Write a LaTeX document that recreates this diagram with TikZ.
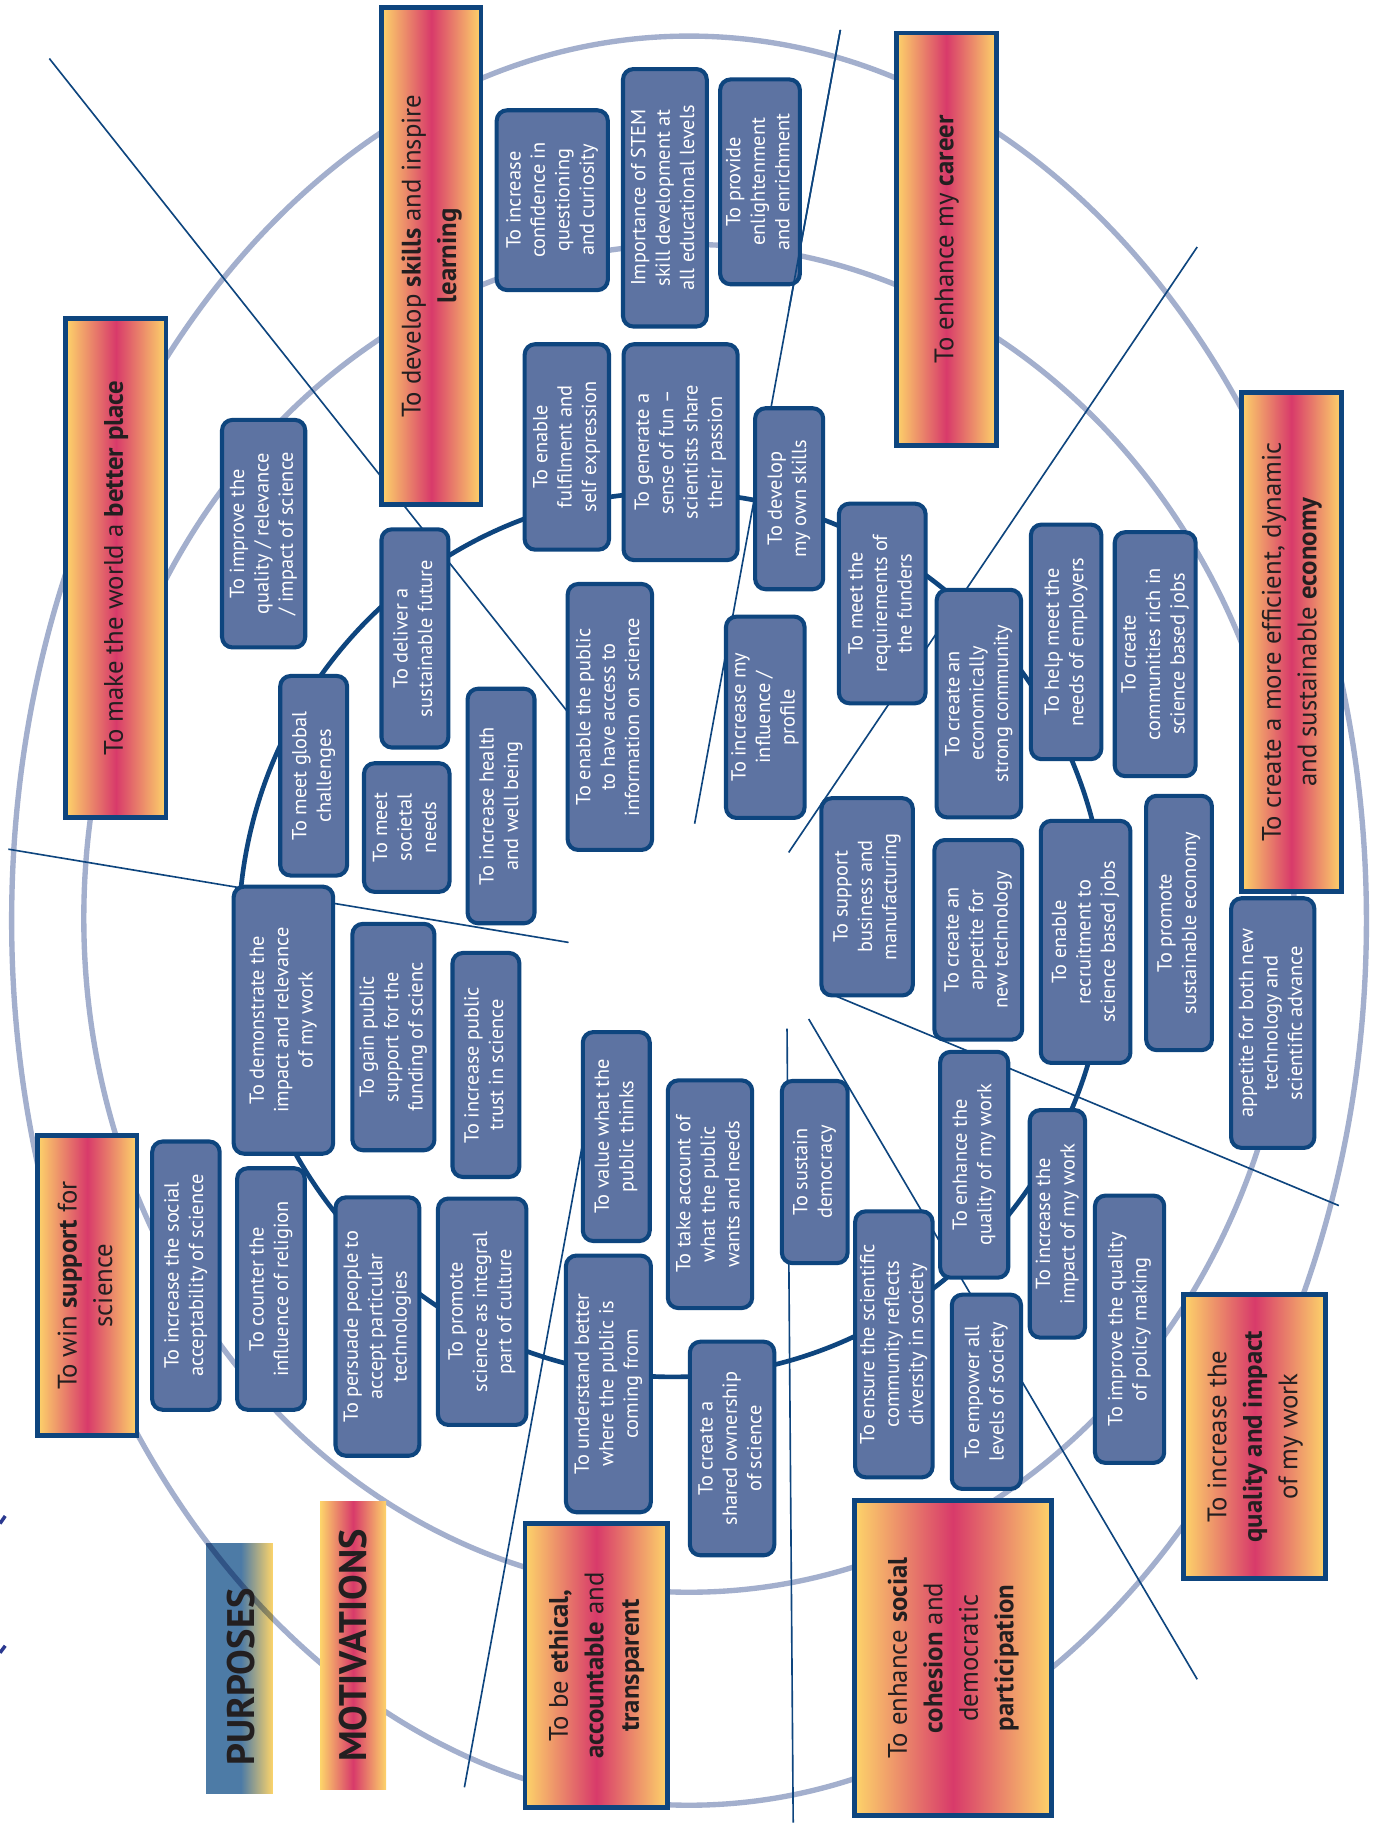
\documentclass[tikz,border=0pt]{standalone}
\usepackage{fontspec}
\setmainfont{PT Sans}
\usepackage{graphicx}
\usetikzlibrary{calc}
\definecolor{navy}{RGB}{14,69,126}
\definecolor{boxblue}{RGB}{93,115,162}
\definecolor{ringc}{RGB}{163,175,205}
\definecolor{pY}{RGB}{253,212,106}
\definecolor{pR}{RGB}{216,58,106}
\definecolor{pBlue}{RGB}{77,123,166}
\definecolor{ptext}{RGB}{35,31,32}
\definecolor{markc}{RGB}{43,57,144}
\newcommand\vtext[1]{\rotatebox{90}{\begin{tabular}{@{}c@{}}#1\end{tabular}}}
\newcommand\bxfont{\fontsize{17.5}{21}\selectfont}
\newcommand\pxfont{\fontsize{23}{30.5}\selectfont}
\newcommand\bigfont{\fontsize{33}{36}\selectfont\bfseries}
\tikzset{
  mbox/.style={rectangle, draw=navy, line width=3.5pt, fill=boxblue, rounded corners=9pt,
    inner sep=0pt, text=white, font=\bxfont},
  pbox/.style={rectangle, draw=navy, line width=4.2pt, left color=pY, right color=pY,
    middle color=pR, inner sep=0pt, text=ptext, font=\pxfont},
  ring/.style={draw=ringc, line width=4.6pt},
  inring/.style={draw=navy, line width=4pt},
  radial/.style={draw=navy, line width=1.4pt},
}
\newcommand\mbx[6]{\node[mbox, minimum width={#4-#2-3.5}, minimum height={#5-#3-3.5}] (#1) at ({(#2+#4)/2},{(#3+#5)/2}) {\vtext{#6}};}
\newcommand\pbx[6]{\node[pbox, minimum width={#4-#2-4.2}, minimum height={#5-#3-4.2}] (#1) at ({(#2+#4)/2},{(#3+#5)/2}) {\vtext{#6}};}
\begin{document}
\begin{tikzpicture}[x=1pt,y=-1pt]
\useasboundingbox (0,0) rectangle (1187,1568);
\fill[white] (0,0) rectangle (1187,1568);

% PURPOSES label background
\fill[pBlue] (177,1325.7) rectangle (207,1541);
\shade[left color=pBlue, right color=pY] (207,1325.7) rectangle (234.4,1541);

% rings
\begin{scope}[blend mode=multiply]
\draw[ring] (592,791) ellipse [x radius=582pt, y radius=760pt];
\draw[ring] (592,789) ellipse [x radius=520pt, y radius=579pt];
\end{scope}
\node[font=\bigfont, text=ptext, rotate=90, inner sep=0pt] (purposes) at (207,1441) {PURPOSES};

\draw[inring] (578,803) ellipse [x radius=373pt, y radius=380pt];

% radial lines
\coordinate (l1a) at (42.4,50.3);   \coordinate (l1b) at (490,614.5);
\coordinate (l2a) at (722,25.7);    \coordinate (l2b) at (596.8,707.7);
\coordinate (l2c) at (678,265);
\coordinate (l3a) at (1028.6,212.2); \coordinate (l3b) at (677.6,732.4);
\coordinate (l4a) at (710,852.4);   \coordinate (l4b) at (1150.3,1035.8);
\coordinate (l5a) at (694.8,875.5); \coordinate (l5b) at (1028.6,1442.8);
\coordinate (l6a) at (676.2,883.7); \coordinate (l6b) at (681.5,1566);
\coordinate (l7a) at (500.1,985);   \coordinate (l7b) at (399,1535.6);
\coordinate (l8a) at (7.2,729.6);   \coordinate (l8b) at (488.5,809.7);
\foreach \i in {1,...,8} {\draw[radial] (l\i a) -- (l\i b);}

% edge marks
\coordinate (m1a) at (0,1309); \coordinate (m1b) at (4.5,1302.5);
\coordinate (m2a) at (0,1420); \coordinate (m2b) at (4.5,1414);
\draw[markc, line width=3pt] (m1a) -- (m1b);
\draw[markc, line width=3pt] (m2a) -- (m2b);

% motivation boxes
\mbx{conf}{425}{93}{524}{251}{To increase\\confidence in\\questioning\\and curiosity}
\mbx{stem}{533.5}{57.6}{609}{282.3}{Importance of STEM\\skill development at\\all educational levels}
\mbx{enlight}{617}{66.5}{689}{246}{To provide\\enlightenment\\and enrichment}
\mbx{improve}{189}{359}{264}{558}{To improve the\\quality / relevance\\/ impact of science}
\mbx{fulfil}{449}{294}{525}{474}{To enable\\fulfilment and\\self expression}
\mbx{fun}{534}{294}{635.5}{483}{To generate a\\sense of fun –\\scientists share\\their passion}
\mbx{ownskills}{647}{349}{709}{508}{To develop\\my own skills}
\mbx{deliver}{326}{453}{387}{644}{To deliver a\\sustainable future}
\mbx{funders}{719}{431}{797}{606}{To meet the\\requirements of\\the funders}
\mbx{employers}{884}{449}{948}{654}{To help meet the\\needs of employers}
\mbx{communities}{956}{455.5}{1029}{668.6}{To create\\communities rich in\\science based jobs}
\mbx{global}{239}{579}{300}{754}{To meet global\\challenges}
\mbx{access}{486}{500}{562}{732}{To enable the public\\to have access to\\information on science}
\mbx{influence}{622}{528}{693}{704.5}{To increase my\\influence /\\profile}
\mbx{econcomm}{803}{505}{879}{704}{To create an\\economically\\strong community}
\mbx{societal}{311}{654}{388}{768}{To meet\\societal\\needs}
\mbx{health}{400}{590}{461}{795}{To increase health\\and well being}
\mbx{business}{704}{684}{786}{857}{To support\\business and\\manufacturing}
\mbx{appetite}{801}{720}{880}{895}{To create an\\appetite for\\new technology}
\mbx{recruit}{892.5}{703.5}{973}{915}{To enable\\recruitment to\\science based jobs}
\mbx{susteco}{983}{682}{1043}{904}{To promote\\sustainable economy}
\mbx{demo}{199}{760}{288}{993}{To demonstrate the\\impact and relevance\\of my work}
\mbx{gain}{301}{792}{375}{990}{To gain public\\support for the\\funding of scienc}
\mbx{trust}{387}{817}{448}{1013}{To increase public\\trust in science}
\mbx{bothnew}{1056}{770}{1131}{988}{appetite for both new\\technology and\\scientific advance}
\mbx{value}{499}{885}{560}{1068}{To value what the\\public thinks}
\mbx{account}{572}{926.5}{648}{1125.6}{To take account of\\what the public\\wants and needs}
\mbx{democracy}{670}{927}{730}{1087}{To sustain\\democracy}
\mbx{enhq}{806}{902}{868}{1099.5}{To enhance the\\quality of my work}
\mbx{impact}{883}{952}{934}{1151}{To increase the\\impact of my work}
\mbx{policy}{939}{1025.5}{1002}{1258.6}{To improve the quality\\of policy making}
\mbx{socacc}{129}{979}{190.5}{1213}{To increase the social\\acceptability of science}
\mbx{religion}{202}{1002}{263.6}{1213}{To counter the\\influence of religion}
\mbx{persuade}{286.5}{1027}{362}{1252.5}{To persuade people to\\accept particular\\technologies}
\mbx{culture}{374.5}{1028}{454}{1226}{To promote\\science as integral\\part of culture}
\mbx{understand}{484.5}{1077}{561}{1301}{To understand better\\where the public is\\coming from}
\mbx{shared}{591}{1151}{667}{1338}{To create a\\shared ownership\\of science}
\mbx{diversity}{733}{1039}{803}{1271}{To ensure the scientific\\community reflects\\diversity in society}
\mbx{empower}{816}{1110.6}{879}{1281}{To empower all\\levels of society}

\draw[radial] (l2a) -- (l2c);

% purpose boxes
\pbx{world}{54.4}{271.4}{144.7}{704.6}{To make the world a \textbf{better place}}
\pbx{skills}{325.8}{4}{415.4}{435.8}{To develop \textbf{skills} and inspire\\\textbf{learning}}
\pbx{career}{767.9}{26.3}{858.1}{384.9}{To enhance my \textbf{career}}
\pbx{economy}{1064.4}{334.9}{1154.7}{768.4}{To create a more efficient, dynamic\\and sustainable \textbf{economy}}
\pbx{qualimp}{1015}{1110}{1141}{1358.6}{To increase the\\\textbf{quality and impact}\\of my work}
\pbx{cohesion}{732.2}{1287}{905.4}{1562}{To enhance \textbf{social}\\\textbf{cohesion} and\\democratic\\\textbf{participation}}
\pbx{ethical}{449}{1307}{575.6}{1555}{To be \textbf{ethical,}\\\textbf{accountable} and\\\textbf{transparent}}
\pbx{support}{30.1}{973.7}{119.8}{1235.2}{To win \textbf{support} for\\science}

% MOTIVATIONS label
\node[rectangle, left color=pY, right color=pY, middle color=pR, inner sep=0pt,
  minimum width=56.8, minimum height=248, text=ptext] (motiv) at (303.4,1413.8)
  {\rotatebox{90}{\bigfont MOTIVATIONS}};
\end{tikzpicture}
\end{document}
